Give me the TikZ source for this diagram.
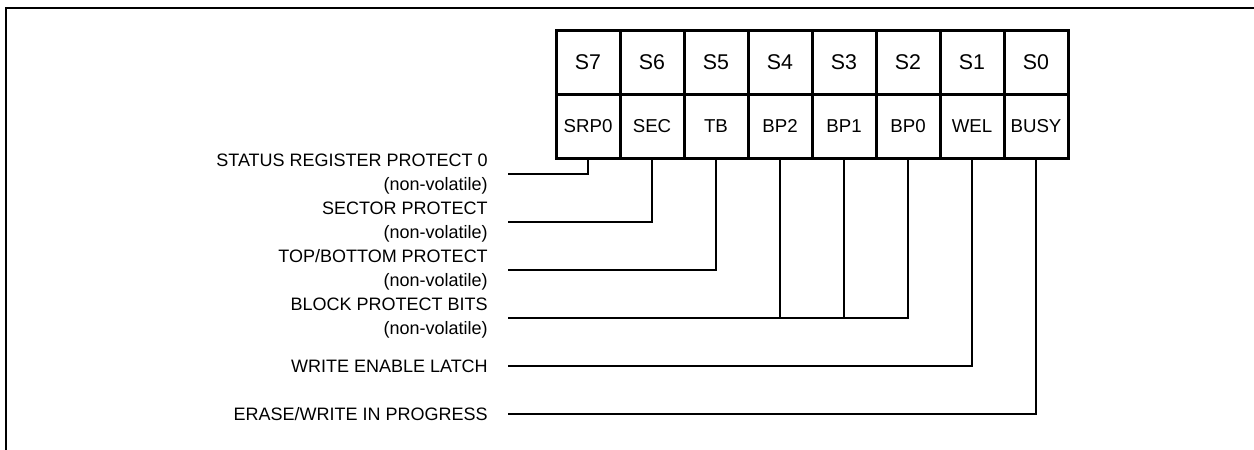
\documentclass[tikz,border=0pt]{standalone}
\usepackage{fontspec}
\setmainfont{Liberation Sans}
\begin{document}
\begin{tikzpicture}[x=0.75pt,y=-0.75pt,
  cellbox/.style={draw, line width=2.25pt, minimum width=48pt, minimum height=48pt, inner sep=0pt, anchor=center},
  toptext/.style={font=\fontsize{16}{19}\selectfont},
  bottext/.style={font=\fontsize{14}{17}\selectfont},
  lbl/.style={align=right, anchor=east, inner sep=0pt, font=\fontsize{13.5}{18}\selectfont},
  wire/.style={line width=1.2pt},
  frameline/.style={line width=1.5pt}]
\useasboundingbox (0,0) rectangle (1254,450);
% frame
\draw[frameline] (6,451) -- (6,8) -- (1255,8);
% register cells
\foreach \t/\b [count=\k from 0] in {S7/SRP0,S6/SEC,S5/TB,S4/BP2,S3/BP1,S2/BP0,S1/WEL,S0/BUSY} {
  \node[cellbox,toptext] (t\k) at ({588+64*\k},62) {\t};
  \node[cellbox,bottext] (b\k) at ({588+64*\k},126) {\b};
}
% labels
\node[lbl] (lsrp) at (488,174) {STATUS REGISTER PROTECT 0\\(non-volatile)};
\node[lbl] (lsec) at (488,222) {SECTOR PROTECT\\(non-volatile)};
\node[lbl] (ltb)  at (488,270) {TOP/BOTTOM PROTECT\\(non-volatile)};
\node[lbl] (lbp)  at (488,318) {BLOCK PROTECT BITS\\(non-volatile)};
\node[lbl] (lwel) at (488,366) {WRITE ENABLE LATCH};
\node[lbl] (lbusy) at (488,414) {ERASE/WRITE IN PROGRESS};
% connectors
\draw[wire] ([xshift=15pt]lsrp.east) -| (b0.south);
\draw[wire] ([xshift=15pt]lsec.east) -| (b1.south);
\draw[wire] ([xshift=15pt]ltb.east) -| (b2.south);
\draw[wire] ([xshift=15pt]lbp.east) -| (b5.south);
\draw[wire] (b3.south) -- (b3.south |- lbp.east);
\draw[wire] (b4.south) -- (b4.south |- lbp.east);
\draw[wire] ([xshift=15pt]lwel.east) -| (b6.south);
\draw[wire] ([xshift=15pt]lbusy.east) -| (b7.south);
\end{tikzpicture}
\end{document}
